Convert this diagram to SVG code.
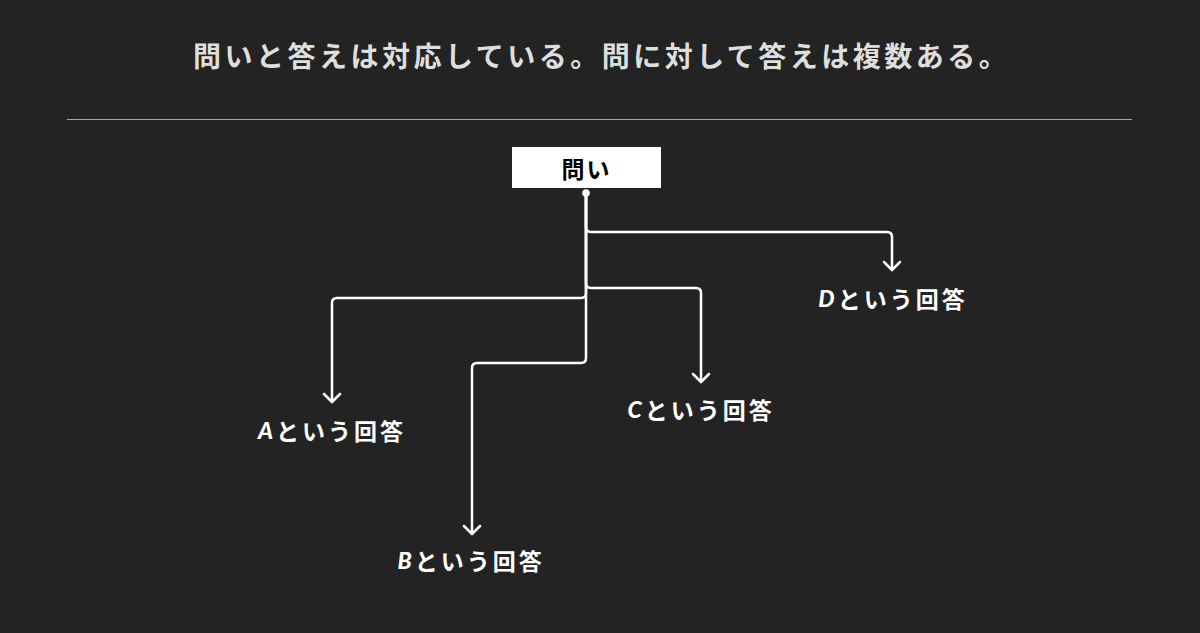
<svg xmlns="http://www.w3.org/2000/svg" width="1200" height="633" viewBox="0 0 1200 633">
<style>
.title{font-family:"Noto Sans CJK JP","Noto Sans",sans-serif;font-weight:700;font-size:28px;fill:#dedede;letter-spacing:3.5px}
.lbl{font-family:"Noto Sans CJK JP","Noto Sans",sans-serif;font-weight:700;font-size:23px;fill:#ffffff;letter-spacing:3px;text-anchor:middle;dominant-baseline:central}
.lt{font-style:italic;font-weight:900;font-family:Lato,"Liberation Sans",sans-serif}
.conn{fill:none;stroke:#ffffff;stroke-width:2.5;stroke-linecap:round}
</style>
<defs>
<marker id="arr" viewBox="0 0 20 20" refX="10" refY="10" markerWidth="20" markerHeight="20" markerUnits="userSpaceOnUse" orient="auto">
<path d="M2,2 L10,10 L2,18" fill="none" stroke="#ffffff" stroke-width="2.5" stroke-linecap="round" stroke-linejoin="round"/>
</marker>
</defs>
<rect width="1200" height="633" fill="#232323"/>
<text class="title" x="193" y="55" dominant-baseline="central">問いと答えは対応している。問に対して答えは複数ある。</text>
<line x1="67" y1="119.5" x2="1132" y2="119.5" stroke="#a8a8a8" stroke-width="1"/>
<g id="connectors">
<path class="conn" d="M586,193 V227 Q586,232 591,232 H887 Q892,232 892,237 V270" marker-end="url(#arr)"/>
<path class="conn" d="M586,193 V283 Q586,288 591,288 H696 Q701,288 701,293 V382" marker-end="url(#arr)"/>
<path class="conn" d="M586,193 V293 Q586,298 581,298 H337 Q332,298 332,303 V402" marker-end="url(#arr)"/>
<path class="conn" d="M586,193 V358 Q586,363 581,363 H477 Q472,363 472,368 V534" marker-end="url(#arr)"/>
<circle cx="586" cy="193" r="3.8" fill="#ffffff"/>
</g>
<g id="question">
<rect x="512" y="147" width="149" height="41" fill="#ffffff"/>
<text x="586.5" y="168" font-family="'Noto Sans CJK JP','Noto Sans',sans-serif" font-weight="700" font-size="23" fill="#000000" text-anchor="middle" dominant-baseline="central" letter-spacing="2">問い</text>
</g>
<g id="answerA"><text class="lbl" x="332" y="430"><tspan class="lt">A</tspan>という回答</text></g>
<g id="answerB"><text class="lbl" x="471" y="560"><tspan class="lt">B</tspan>という回答</text></g>
<g id="answerC"><text class="lbl" x="701" y="409"><tspan class="lt">C</tspan>という回答</text></g>
<g id="answerD"><text class="lbl" x="893" y="298"><tspan class="lt">D</tspan>という回答</text></g>
</svg>
